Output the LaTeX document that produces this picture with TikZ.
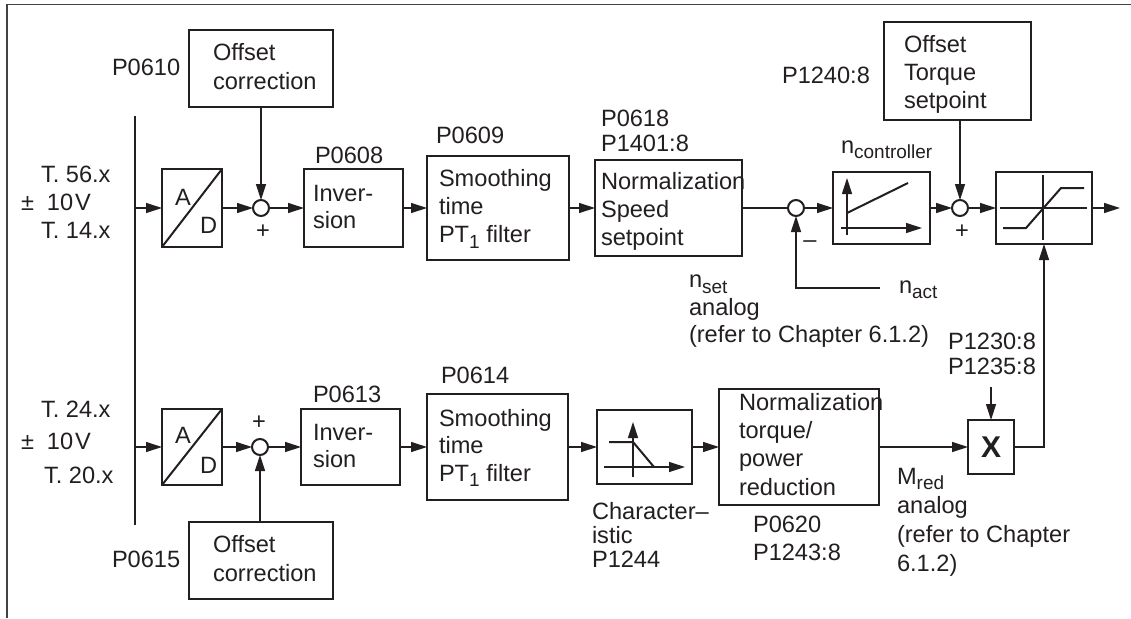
\documentclass[tikz,border=0pt]{standalone}
\usepackage{fontspec}
\setmainfont{Liberation Sans}
\usetikzlibrary{arrows.meta}
\definecolor{ink}{HTML}{231F20}
\newcommand\sbs[1]{\raisebox{-0.24em}{\fontsize{19}{19}\selectfont #1}}
\newcommand\blk[5]{\node[blockbox,minimum width={(#4-#2)*1pt},minimum height={(#5-#3)*1pt}] (#1) at ({(#2+#4)/2},{(#3+#5)/2}) {};}
\tikzset{
  blockbox/.style={draw=ink,line width=2pt,rectangle,inner sep=0pt,outer sep=0pt},
  sumnode/.style={draw=ink,fill=white,line width=2pt,circle,minimum size=16pt,inner sep=0pt,outer sep=0pt},
  lab/.style={text=ink,anchor=north west,inner sep=0pt,outer sep=0pt,yshift=18pt,align=left,execute at begin node={\rule{0pt}{18pt}}},
  f27/.style={font=\fontsize{23.6}{27.5}\selectfont},
  f28/.style={font=\fontsize{23.6}{28.3}\selectfont},
  f29/.style={font=\fontsize{23.6}{29}\selectfont},
  f25/.style={font=\fontsize{23.6}{25}\selectfont},
  f24/.style={font=\fontsize{23.6}{24}\selectfont},
  wire/.style={draw=ink,line width=1.2pt},
  arr/.style={wire,-{Triangle[length=16pt,width=10pt]}},
  iconthick/.style={draw=ink,line width=2pt},
  iconarr/.style={draw=ink,line width=1.2pt,-{Triangle[length=16pt,width=10pt]}},
  mark sign/.style={text=ink,font=\fontsize{23.6}{24}\selectfont,inner sep=0pt},
}
\begin{document}
\begin{tikzpicture}[x=1pt,y=-1pt]
\useasboundingbox (0,0) rectangle (1131,618);
\fill[white] (0,0) rectangle (1131,618);
% frame
\draw[draw=ink!85,line width=1.2pt] (1131,4.5) -- (7,4.5) -- (7,618);
% input bar
\draw[draw=ink,line width=2.2pt] (135,116) -- (135,525);
\coordinate (bar1) at (135,208);
\coordinate (bar2) at (135,447);
% blocks top
\blk{off1}{189}{30}{333}{107}
\blk{ad1}{162}{169}{222}{247}
\blk{inv1}{304}{169}{403}{247}
\blk{smo1}{427}{156}{569}{260}
\blk{nor1}{595}{160}{742}{256}
\blk{ctl}{833}{172}{930}{244}
\blk{lim}{996}{172}{1092}{244}
\blk{tq}{884}{22}{1031}{120}
% blocks bottom
\blk{ad2}{162}{409}{222}{485}
\blk{inv2}{301}{409}{400}{485}
\blk{smo2}{427}{394}{568}{500}
\blk{chr}{597}{410}{692}{484}
\blk{nor2}{719}{389}{879}{505}
\blk{xb}{968}{420}{1014}{474}
\blk{off2}{189}{522}{333}{599}
% sums
\node[sumnode] (s1) at (261,208) {};
\node[sumnode] (s2) at (796,208) {};
\node[sumnode] (s3) at (960,208) {};
\node[sumnode] (s4) at (260,447) {};
% free ends
\coordinate (out) at (1120,208);
\coordinate (nactend) at (880,288);
\coordinate (pin) at (991,387);
% connectors
\draw[arr] (bar1) -- (ad1.west);
\draw[arr] (ad1.east) -- (s1.west);
\draw[arr] (s1.east) -- (inv1.west);
\draw[arr] (inv1.east) -- (smo1.west);
\draw[arr] (smo1.east) -- (nor1.west);
\draw[wire] (nor1.east) -- (s2.west);
\draw[arr] (s2.east) -- (ctl.west);
\draw[arr] (ctl.east) -- (s3.west);
\draw[arr] (s3.east) -- (lim.west);
\draw[arr] (lim.east) -- (out);
\draw[arr] (off1.south) -- (s1.north);
\draw[arr] (s3 |- tq.south) -- (s3.north);
\draw[arr] (nactend) -| (s2.south);
\draw[arr] (bar2) -- (ad2.west);
\draw[arr] (ad2.east) -- (s4.west);
\draw[arr] (s4.east) -- (inv2.west);
\draw[arr] (inv2.east) -- (smo2.west);
\draw[arr] (smo2.east) -- (chr.west);
\draw[arr] (chr.east) -- (nor2.west);
\draw[arr] (nor2.east) -- (xb.west);
\draw[arr] (s4 |- off2.north) -- (s4.south);
\draw[arr] (pin) -- (xb.north);
\draw[arr] (xb.east) -| (lim.south);
% A/D diagonals
\draw[draw=ink,line width=2pt] (ad1.south west) -- (ad1.north east);
\draw[draw=ink,line width=2pt] (ad2.south west) -- (ad2.north east);
% controller icon
\draw[iconarr] (847,235) -- (847,178);
\draw[iconarr] (841,228) -- (922,228);
\draw[iconthick] (847,213) -- (908,183);
% limiter icon
\draw[iconthick] (1000,208) -- (1087,208);
\draw[iconthick] (1043,175) -- (1043,240);
\draw[iconthick] (1003,228) -- (1026,228) -- (1061,188) -- (1084,188);
% characteristic icon
\draw[iconarr] (633,477) -- (633,422);
\draw[iconarr] (604,467) -- (685,467);
\draw[iconthick] (609,442) -- (633,442) -- (654,467);
% texts top
\node[lab,f27] (t1) at (112,75) {P0610};
\node[lab,f29] (t2) at (213,61) {Offset\\correction};
\node[lab,f27] (t3) at (41,182) {T. 56.x};
\node[lab,f27] (t4) at (21,210) {±\hspace{13pt}10\hspace{2pt}V};
\node[lab,f27] (t5) at (41,238) {T. 14.x};
\node[lab,f27] (t6) at (315,163) {P0608};
\node[lab,f27] (t7) at (313,203) {Inver-\\sion};
\node[lab,f27] (t8) at (175,205) {A};
\node[lab,f27] (t9) at (200,233) {D};
\node[mark sign] (t10) at (263,232) {+};
\node[lab,f27] (t11) at (436,143) {P0609};
\node[lab,f28] (t12) at (439,187) {Smoothing\\time\\PT\sbs{1} filter};
\node[lab,f25] (t13) at (601,128) {P0618\\P1401:8};
\node[lab,f28] (t14) at (601,190) {Normalization\\Speed\\setpoint};
\node[lab,f27] (t15) at (841,153) {n\sbs{controller}};
\node[lab,f27] (t16) at (782,83) {P1240:8};
\node[lab,f28] (t17) at (904,53) {Offset\\Torque\\setpoint};
\node[mark sign] (t18) at (810,244) {–};
\node[mark sign] (t19) at (962,232) {+};
\node[lab,f27] (t20) at (899,293) {n\sbs{act}};
\node[lab,f27] (t21) at (689,293) {n\sbs{set}\\analog\\(refer to Chapter 6.1.2)};
\node[lab,f25] (t22) at (948,351) {P1230:8\\P1235:8};
% texts bottom
\node[text=ink,inner sep=0pt,font=\fontsize{30}{30}\selectfont\bfseries] (t23) at (991,447) {X};
\node[lab,f29] (t24) at (897,486) {M\sbs{red}\\analog\\(refer to Chapter\\6.1.2)};
\node[lab,f28] (t25) at (753,534) {P0620\\P1243:8};
\node[lab,f28] (t26) at (739,411) {Normalization\\torque/\\power\\reduction};
\node[lab,f24] (t27) at (592,520) {Character–\\istic\\P1244};
\node[lab,f27] (t28) at (41,417) {T. 24.x};
\node[lab,f27] (t29) at (21,449) {±\hspace{13pt}10\hspace{2pt}V};
\node[lab,f27] (t30) at (44,483) {T. 20.x};
\node[lab,f27] (t31) at (313,402) {P0613};
\node[lab,f27] (t32) at (313,442) {Inver-\\sion};
\node[lab,f27] (t33) at (175,443) {A};
\node[lab,f27] (t34) at (200,473) {D};
\node[mark sign] (t35) at (259,423) {+};
\node[lab,f27] (t36) at (112,567) {P0615};
\node[lab,f29] (t37) at (213,553) {Offset\\correction};
\node[lab,f27] (t38) at (441,383) {P0614};
\node[lab,f27] (t39) at (439,427) {Smoothing\\time\\PT\sbs{1} filter};
\end{tikzpicture}
\end{document}
